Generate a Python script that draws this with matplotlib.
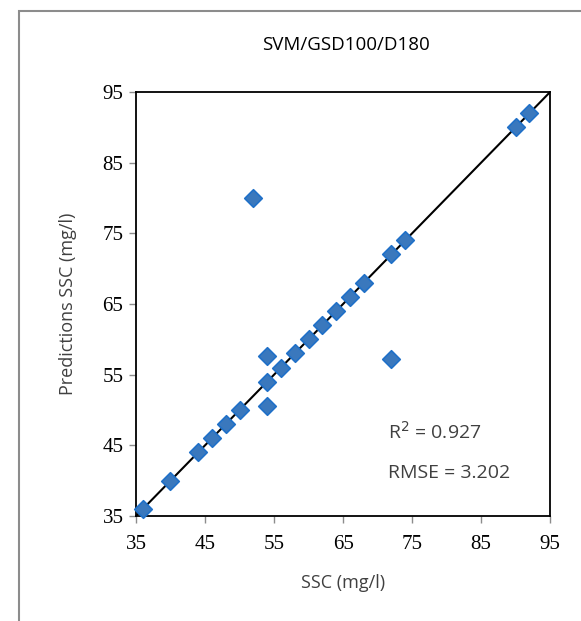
import numpy as np
import matplotlib
matplotlib.use("Agg")
import matplotlib.pyplot as plt
from matplotlib.patches import Rectangle

ssc_obs = [36, 40, 44, 46, 48, 50, 54, 54, 54, 56, 58, 60, 62, 64, 66, 68, 72, 72, 74, 52, 90, 92]
ssc_pred = [36, 40, 44, 46, 48, 50, 57.7, 54, 50.6, 56, 58, 60, 62, 64, 66, 68, 57.2, 72, 74, 80, 90, 92]
ticks = [35, 45, 55, 65, 75, 85, 95]
title = "SVM/GSD100/D180"
r2_text = "R$^2$ = 0.927"
rmse_text = "RMSE = 3.202"

sans = "Open Sans"
serif = "Liberation Serif"
txt_col = "#404040"

fig = plt.figure(figsize=(5.81, 6.21), dpi=100)
ax = fig.add_axes([0.234, 0.169, 0.713, 0.683])

# cornice esterna (solo bordo superiore e sinistro visibili)
fig.patches.append(Rectangle((0.033, -0.1), 1.5, 1.082, transform=fig.transFigure,
                             fill=False, edgecolor="#8c8c8c", linewidth=1.5))

# linea 1:1
ax.plot([35, 95], [35, 95], color="black", linewidth=1.5, zorder=2)
ax.scatter(ssc_obs, ssc_pred, marker="D", s=80, facecolor="#3a78bd",
           edgecolor="#1f70c8", linewidth=1.2, zorder=3, clip_on=False)

ax.set_xlim(35, 95)
ax.set_ylim(35, 95)
ax.set_xticks(ticks)
ax.set_yticks(ticks)
ax.set_xticklabels([str(t) for t in ticks], fontfamily=serif, fontsize=15)
ax.set_yticklabels([str(t) for t in ticks], fontfamily=serif, fontsize=15)
ax.tick_params(direction="out", length=5, width=1, color="#8c8c8c", pad=4)
ax.tick_params(axis="x", pad=9)

for s in ax.spines.values():
    s.set_linewidth(1.3)
    s.set_color("black")

ax.set_xlabel("SSC (mg/l)", fontfamily=sans, fontsize=13, color=txt_col, labelpad=14)
ax.set_ylabel("Predictions SSC (mg/l)", fontfamily=sans, fontsize=13, color=txt_col, labelpad=18)
fig.text(0.595, 0.927, title, ha="center", va="center", fontfamily=sans,
         fontsize=13.5, color="black")

ax.text(71.5, 46.9, r2_text, fontfamily=sans, fontsize=14, color=txt_col, va="center")
ax.text(71.5, 41.1, rmse_text, fontfamily=sans, fontsize=14, color=txt_col, va="center")

fig.savefig("out.png", dpi=100, facecolor="white")
